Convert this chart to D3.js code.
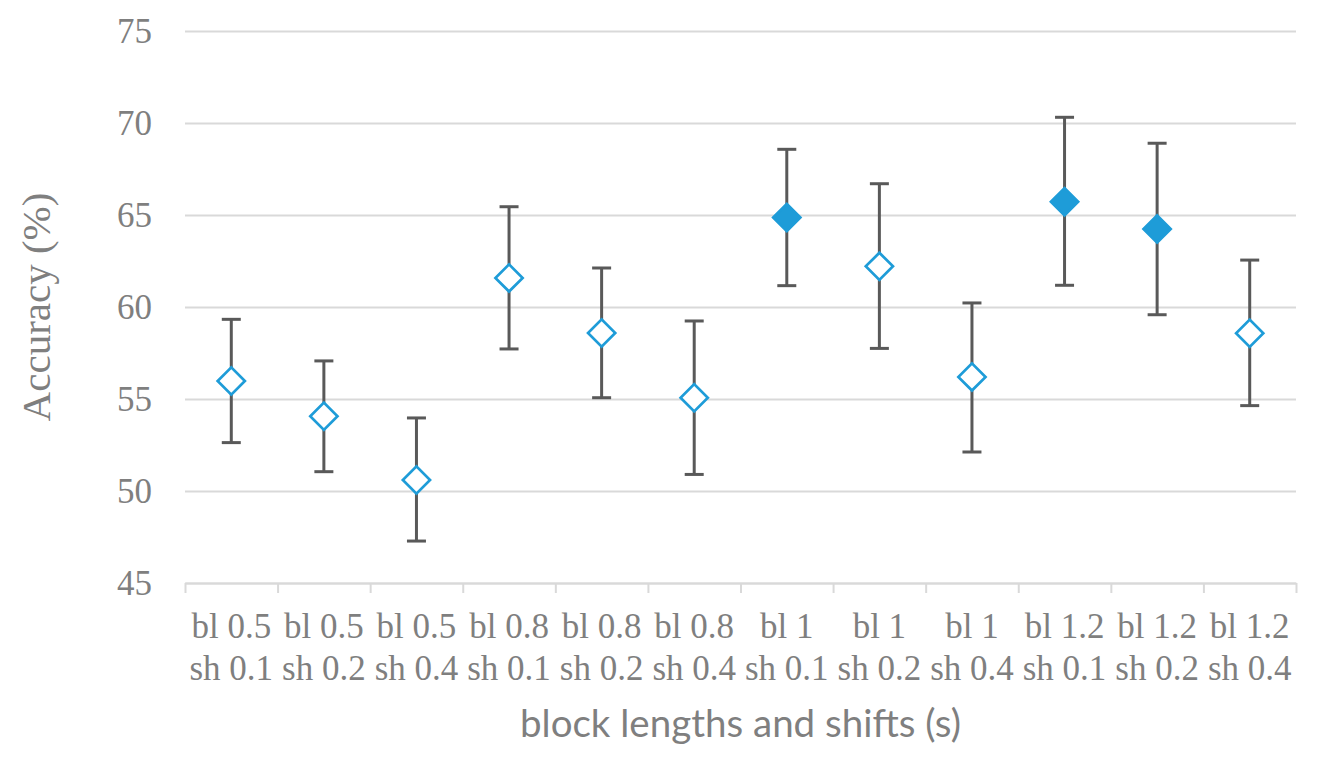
<html lang="en">
<head>
    <meta charset="utf-8">
    <title>Accuracy by block length and shift</title>
    <script src="https://cdn.jsdelivr.net/npm/d3@7"></script>
    <style>
        body { margin: 0; background: #fff; }
    </style>
</head>
<body>
<script>
    var blockLabels = ["bl 0.5", "bl 0.5", "bl 0.5", "bl 0.8", "bl 0.8", "bl 0.8", "bl 1", "bl 1", "bl 1", "bl 1.2", "bl 1.2", "bl 1.2"];
    var shiftLabels = ["sh 0.1", "sh 0.2", "sh 0.4", "sh 0.1", "sh 0.2", "sh 0.4", "sh 0.1", "sh 0.2", "sh 0.4", "sh 0.1", "sh 0.2", "sh 0.4"];
    var accuracy = [55.98, 54.06, 50.6, 61.58, 58.59, 55.07, 64.86, 62.21, 56.2, 65.72, 64.24, 58.57];
    var errUp = [3.35, 3.01, 3.37, 3.87, 3.53, 4.17, 3.71, 4.49, 4.02, 4.59, 4.66, 3.98];
    var errDown = [3.35, 3.01, 3.32, 3.86, 3.52, 4.17, 3.70, 4.46, 4.08, 4.54, 4.66, 3.93];
    var filled = [false, false, false, false, false, false, true, false, false, true, true, false];
    var yTicks = [45, 50, 55, 60, 65, 70, 75];

    var width = 1320, height = 760;
    var plotLeft = 185, plotRight = 1296, plotTop = 31, plotBottom = 583;
    var grey = "#7f7f7f", gridColor = "#d9d9d9", barColor = "#595959", blue = "#1e9cd8";

    var svg = d3.select("body").append("svg").attr("width", width).attr("height", height);

    var idx = d3.range(accuracy.length);
    var x = d3.scaleBand().domain(idx).range([plotLeft, plotRight]).padding(0);
    var xEdge = d3.scaleLinear().domain([0, accuracy.length]).range([plotLeft, plotRight]);
    var y = d3.scaleLinear().domain([45, 75]).range([plotBottom, plotTop]);

    // gridlines + y labels
    var yAxis = d3.axisLeft(y).tickValues(yTicks).tickSize(-(plotRight - plotLeft)).tickPadding(33);
    var gy = svg.append("g").attr("transform", "translate(" + plotLeft + ",0)").call(yAxis);
    gy.select(".domain").remove();
    gy.selectAll(".tick line").attr("stroke", gridColor).attr("stroke-width", 2);
    gy.selectAll(".tick text").attr("fill", grey).attr("font-family", "'Liberation Serif', 'Times New Roman', serif").attr("font-size", "35px");

    // x axis line and tick marks at category edges
    var xAxis = d3.axisBottom(xEdge).tickValues(d3.range(accuracy.length + 1)).tickSize(10).tickFormat("").tickSizeOuter(0);
    var gx = svg.append("g").attr("transform", "translate(0," + plotBottom + ")").call(xAxis);
    gx.select(".domain").attr("stroke", gridColor).attr("stroke-width", 2);
    gx.selectAll(".tick line").attr("stroke", gridColor).attr("stroke-width", 2);

    // category labels (two lines)
    var cx = function (d) { return x(d) + x.bandwidth() / 2; };
    var lab = svg.append("g").selectAll("text").data(idx).enter().append("text")
        .attr("x", cx)
        .attr("y", 638)
        .attr("text-anchor", "middle")
        .attr("fill", grey)
        .attr("font-family", "'Liberation Serif', 'Times New Roman', serif")
        .attr("font-size", "35px");
    lab.append("tspan").attr("x", cx).text(function (d) { return blockLabels[d]; });
    lab.append("tspan").attr("x", cx).attr("dy", 41.5).text(function (d) { return shiftLabels[d]; });

    // error bars
    var eb = svg.append("g").attr("stroke", barColor).attr("stroke-width", 3);
    eb.selectAll("line.v").data(idx).enter().append("line").attr("class", "v")
        .attr("x1", cx).attr("x2", cx)
        .attr("y1", function (d) { return y(accuracy[d] + errUp[d]); })
        .attr("y2", function (d) { return y(accuracy[d] - errDown[d]); });
    eb.selectAll("line.t").data(idx).enter().append("line").attr("class", "t")
        .attr("x1", function (d) { return cx(d) - 9.5; }).attr("x2", function (d) { return cx(d) + 9.5; })
        .attr("y1", function (d) { return y(accuracy[d] + errUp[d]); })
        .attr("y2", function (d) { return y(accuracy[d] + errUp[d]); });
    eb.selectAll("line.b").data(idx).enter().append("line").attr("class", "b")
        .attr("x1", function (d) { return cx(d) - 9.5; }).attr("x2", function (d) { return cx(d) + 9.5; })
        .attr("y1", function (d) { return y(accuracy[d] - errDown[d]); })
        .attr("y2", function (d) { return y(accuracy[d] - errDown[d]); });

    // diamond markers
    var diamond = d3.symbol().type(d3.symbolSquare).size(370);
    svg.append("g").selectAll("path").data(idx).enter().append("path")
        .attr("d", diamond)
        .attr("transform", function (d) { return "translate(" + cx(d) + "," + y(accuracy[d]) + ") rotate(45)"; })
        .attr("fill", function (d) { return filled[d] ? blue : "#fff"; })
        .attr("stroke", blue)
        .attr("stroke-width", 2.7);

    // axis titles
    svg.append("text").text("Accuracy (%)")
        .attr("transform", "translate(50," + ((plotTop + plotBottom) / 2) + ") rotate(-90)")
        .attr("text-anchor", "middle")
        .attr("fill", grey)
        .attr("font-family", "'Liberation Serif', 'Times New Roman', serif")
        .attr("font-size", "41px");
    svg.append("text").text("block lengths and shifts (s)")
        .attr("x", (plotLeft + plotRight) / 2).attr("y", 737)
        .attr("text-anchor", "middle")
        .attr("fill", grey)
        .attr("font-family", "Lato, 'Open Sans', sans-serif")
        .attr("font-size", "38.5px");
</script>
</body>
</html>
